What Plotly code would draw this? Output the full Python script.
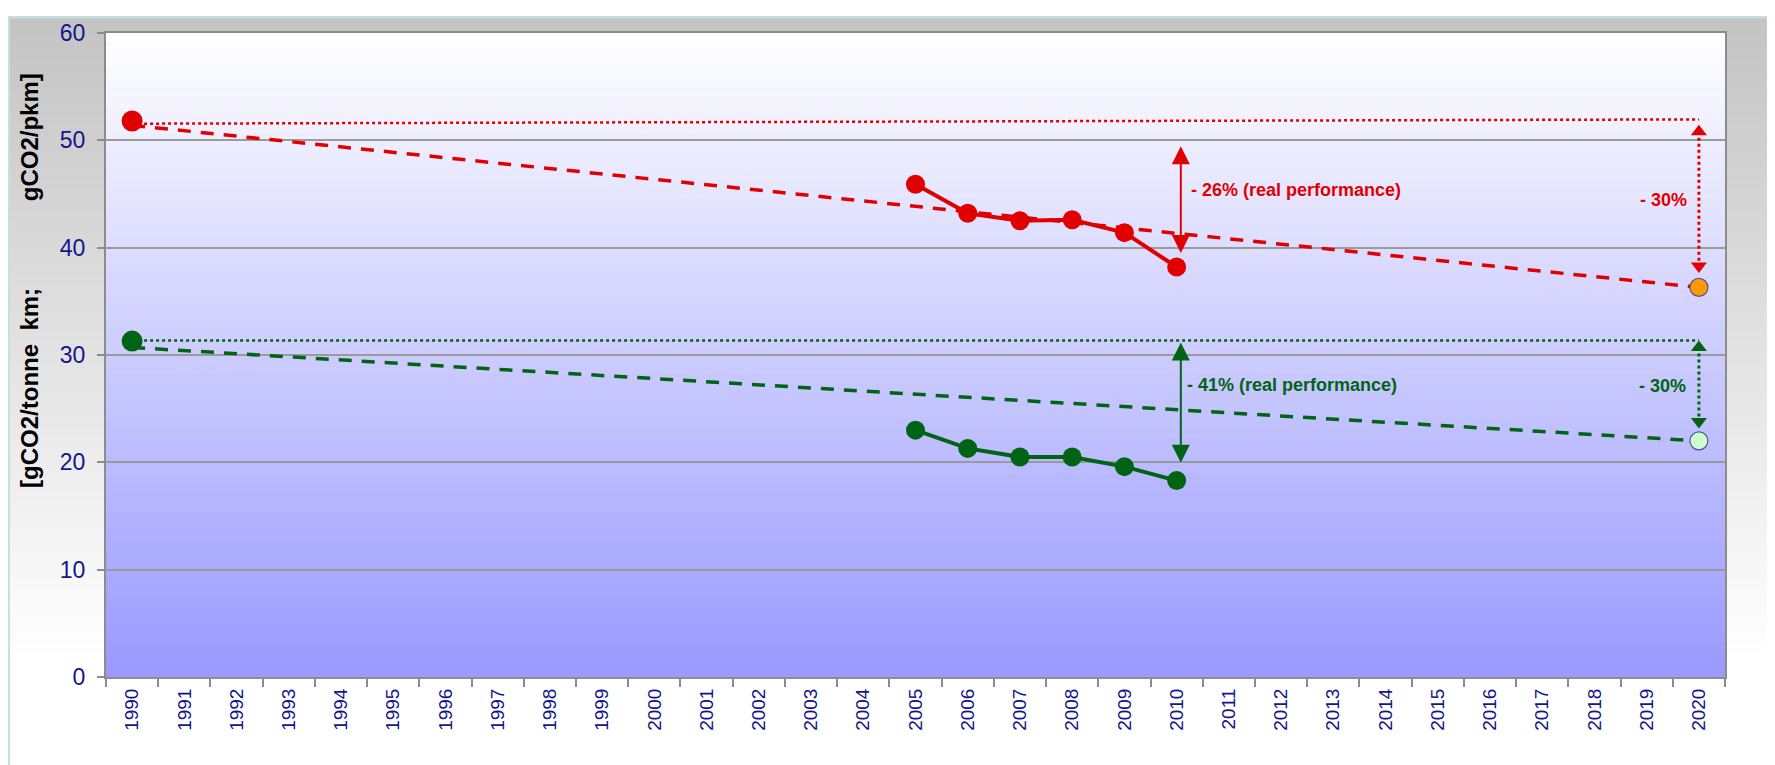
import plotly.graph_objects as go

# categories
years = list(range(1990, 2021))

# measured values
meas_years = [2005, 2006, 2007, 2008, 2009, 2010]
pkm_values = [45.9, 43.2, 42.5, 42.6, 41.4, 38.2]
tkm_values = [23.0, 21.3, 20.5, 20.5, 19.6, 18.3]

# 1990 base and 2020 targets
base_year = 1990
target_year = 2020
pkm_base = 51.8
tkm_base = 31.3
pkm_target = 36.3
tkm_target = 22.0

# trend (dashed) and reference (dotted) lines
trend_years = [1990, 2020]
pkm_trend = [51.4, 36.3]
tkm_trend = [30.7, 22.0]
pkm_ref = [51.55, 51.95]
tkm_ref = [31.35, 31.35]

# arrows: [top, bottom]
pkm_real_arrow = [49.6, 39.5]
tkm_real_arrow = [31.3, 19.95]
pkm_goal_arrow = [50.8, 38.3]
tkm_goal_arrow = [30.7, 23.8]

RED = "#e00000"
GREEN = "#006414"
NAVY = "#14148c"

# page body has an 8px margin, so margins are shifted to keep the plot box in place
OFF = 8
W, H = 1775, 765
ML, MR, MT, MB = 106 - OFF, 50 + OFF, 25 - OFF, 88 + OFF
pw, ph = W - ML - MR, H - MT - MB
px0, px1 = -ML / pw, 1 + MR / pw
py0, py1 = -MB / ph, 1 + MT / ph

fig = go.Figure()

# dashed trend lines and dotted reference lines
fig.add_trace(go.Scatter(x=trend_years, y=pkm_ref, mode="lines",
                         line=dict(color=RED, width=2.5, dash="dot")))
fig.add_trace(go.Scatter(x=trend_years, y=tkm_ref, mode="lines",
                         line=dict(color=GREEN, width=2.5, dash="dot")))
fig.add_trace(go.Scatter(x=trend_years, y=pkm_trend, mode="lines",
                         line=dict(color=RED, width=3.5, dash="13px,10px")))
fig.add_trace(go.Scatter(x=trend_years, y=tkm_trend, mode="lines",
                         line=dict(color=GREEN, width=3.5, dash="13px,10px")))

# dotted double arrows at 2020
for arr, col in [(pkm_goal_arrow, RED), (tkm_goal_arrow, GREEN)]:
    fig.add_trace(go.Scatter(
        x=[target_year, target_year], y=arr, mode="lines+markers",
        line=dict(color=col, width=3, dash="dot"),
        marker=dict(symbol=["triangle-up", "triangle-down"], size=14, color=col)))

# measured series
fig.add_trace(go.Scatter(x=meas_years, y=pkm_values, mode="lines+markers",
                         line=dict(color=RED, width=4),
                         marker=dict(size=19, color=RED)))
fig.add_trace(go.Scatter(x=meas_years, y=tkm_values, mode="lines+markers",
                         line=dict(color=GREEN, width=4),
                         marker=dict(size=19, color=GREEN)))

# base points
fig.add_trace(go.Scatter(x=[base_year], y=[pkm_base], mode="markers",
                         marker=dict(size=21, color=RED)))
fig.add_trace(go.Scatter(x=[base_year], y=[tkm_base], mode="markers",
                         marker=dict(size=21, color=GREEN)))

# targets
fig.add_trace(go.Scatter(x=[target_year], y=[pkm_target], mode="markers",
                         marker=dict(size=18, color="#ff9900",
                                     line=dict(color="#5050a0", width=1.2))))
fig.add_trace(go.Scatter(x=[target_year], y=[tkm_target], mode="markers",
                         marker=dict(size=18, color="#ccffcc",
                                     line=dict(color="#5050a0", width=1.2))))

# solid double arrows at 2010
for arr, col in [(pkm_real_arrow, RED), (tkm_real_arrow, GREEN)]:
    fig.add_annotation(x=2010.08, y=arr[1], ax=2010.08, ay=arr[0],
                       xref="x", yref="y", axref="x", ayref="y",
                       text="", showarrow=True, arrowhead=2, arrowsize=1.8,
                       arrowwidth=2, arrowcolor=col, arrowside="end+start")

lab_font = dict(family="Liberation Sans, Arial, sans-serif", size=18)
fig.add_annotation(x=2010.23, y=45.4, text="<b>- 26% (real performance)</b>",
                   showarrow=False, xanchor="left", font=dict(lab_font, color=RED))
fig.add_annotation(x=2010.16, y=27.2, text="<b>- 41% (real performance)</b>",
                   showarrow=False, xanchor="left", font=dict(lab_font, color=GREEN))
fig.add_annotation(x=2019.33, y=44.4, text="<b>- 30%</b>",
                   showarrow=False, font=dict(lab_font, color=RED))
fig.add_annotation(x=2019.3, y=27.1, text="<b>- 30%</b>",
                   showarrow=False, font=dict(lab_font, color=GREEN))

# y axis title
sp = "\u00a0"
fig.add_annotation(xref="paper", yref="paper", x=(30 - 106) / pw, y=(677 - 276) / ph,
                   xanchor="center", yanchor="middle",
                   text="<b>[gCO2/tonne" + sp * 2 + "km;" + sp * 13 + "gCO2/pkm]</b>",
                   textangle=-90, showarrow=False,
                   font=dict(family="Liberation Sans, Arial, sans-serif", size=24, color="black"))

# background gradients
shapes = []
n = 70
for i in range(n):
    t = i / (n - 1)  # 0 at top
    f = min(1.0, t / 0.85)
    g = int(round(196 + (255 - 196) * f))
    y_top = py1 - (py1 - py0) * i / n
    y_bot = py1 - (py1 - py0) * (i + 1) / n
    shapes.append(dict(type="rect", xref="paper", yref="paper", layer="below",
                       x0=px0, x1=px1, y0=y_bot - 0.002, y1=y_top,
                       line=dict(width=0), fillcolor=f"rgb({g},{g},{g})"))
for i in range(n):
    t = (i + 0.5) / n
    rg = int(round(255 - (255 - 153) * t))
    shapes.append(dict(type="rect", xref="paper", yref="paper", layer="below",
                       x0=0, x1=1, y0=1 - (i + 1) / n - 0.001, y1=1 - i / n,
                       line=dict(width=0), fillcolor=f"rgb({rg},{rg},255)"))
shapes.append(dict(type="rect", xref="paper", yref="paper", layer="above",
                   x0=px0 + 1 / pw, x1=px1 - 1 / pw, y0=py0 + 1 / ph, y1=py1 - 1 / ph,
                   line=dict(color="#c0e2e2", width=2), fillcolor="rgba(0,0,0,0)"))

fig.update_layout(
    width=W, height=H,
    margin=dict(l=ML, r=MR, t=MT, b=MB),
    paper_bgcolor="white",
    plot_bgcolor="rgba(0,0,0,0)",
    showlegend=False,
    hovermode=False,
    shapes=shapes,
    xaxis=dict(
        range=[1989.5, 2020.5],
        tickvals=years, ticktext=[str(y) for y in years],
        tickangle=-90, ticks="", ticklabelstandoff=2,
        tickfont=dict(family="Liberation Sans, Arial, sans-serif", size=19, color=NAVY),
        showgrid=False, zeroline=False,
        showline=True, linecolor="#8c8c8c", linewidth=2, mirror=True,
        minor=dict(tickvals=[y - 0.5 for y in years] + [2020.5],
                   ticks="outside", ticklen=8, tickcolor="#8c8c8c", tickwidth=1.5),
    ),
    yaxis=dict(
        range=[0, 60], dtick=10,
        ticks="outside", ticklen=7, tickcolor="#8c8c8c", tickwidth=1.5,
        ticklabelstandoff=7,
        tickfont=dict(family="Liberation Sans, Arial, sans-serif", size=23, color=NAVY),
        showgrid=True, gridcolor="#9a9a9a", gridwidth=1.5, zeroline=False,
        showline=True, linecolor="#8c8c8c", linewidth=2, mirror=True,
    ),
)

fig.write_html("out.html")
